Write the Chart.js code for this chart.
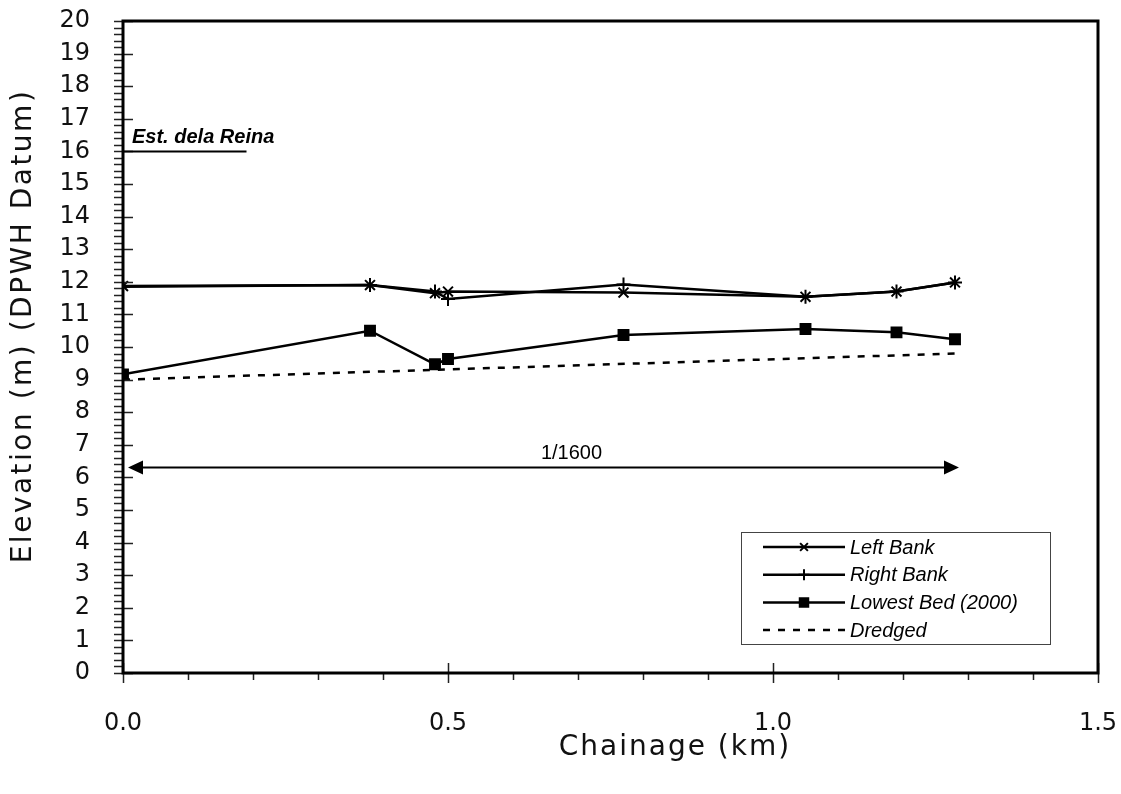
<!DOCTYPE html>
<html>
<head>
<meta charset="utf-8">
<script src="https://cdn.jsdelivr.net/npm/chart.js@4.4.1/dist/chart.umd.min.js"></script>
<style>
  html, body { margin: 0; padding: 0; background: #fff; }
  #wrap { width: 1121px; height: 794px; }
</style>
</head>
<body>
<div id="wrap"><canvas id="chart" width="1121" height="794"></canvas></div>
<script>
/* === DATA === */
const chainage = [0, 0.38, 0.48, 0.5, 0.77, 1.05, 1.19, 1.28];
const leftBank = [11.87, 11.9, 11.65, 11.7, 11.67, 11.54, 11.7, 11.98];
const rightBank = [11.85, 11.9, 11.7, 11.47, 11.92, 11.54, 11.7, 11.98];
const lowestBed = [9.16, 10.5, 9.47, 9.63, 10.37, 10.55, 10.45, 10.24];
const dredgedKm = [0, 1.28];
const dredged = [9.0, 9.8];

const yTicks = [0, 20, 1];      // min, max, step
const xTicks = [0, 1.5, 0.5];

// annotations
const reinaLabel = "Est. dela Reina";
const reinaLevel = 16;
const reinaEnd = 0.19;
const slopeLabel = "1/1600";
const slopeLevel = 6.3;
const slopeFrom = 0;
const slopeTo = 1.28;
const slopeTextAt = 0.69;

const pts = (xs, ys) => xs.map((x, i) => ({ x, y: ys[i] }));

/* === PLUGIN: frame, ticks, titles, notes, legend === */
const decor = {
  id: "decor",
  afterDraw(chart) {
    const { ctx, chartArea: a, scales } = chart;
    const xs = scales.x, ys = scales.y;
    ctx.save();

    // minor / major ticks
    ctx.strokeStyle = "#222";
    ctx.lineWidth = 1.5;
    ctx.beginPath();
    for (let i = 0; i <= 100; i++) {
      const py = Math.round(ys.getPixelForValue(i * 0.2)) + 0.5;
      const major = i % 5 === 0;
      ctx.moveTo(a.left - 9, py);
      ctx.lineTo(major ? a.left + 10 : a.left, py);
    }
    for (let i = 0; i <= 15; i++) {
      const px = Math.round(xs.getPixelForValue(i * 0.1)) + 0.5;
      const major = i % 5 === 0;
      ctx.moveTo(px, major ? a.bottom - 10 : a.bottom);
      ctx.lineTo(px, a.bottom + (major ? 10 : 7));
    }
    ctx.stroke();

    // frame
    ctx.strokeStyle = "#000";
    ctx.lineWidth = 3;
    ctx.strokeRect(a.left, a.top, a.right - a.left, a.bottom - a.top);

    // axis titles
    ctx.fillStyle = "#111";
    ctx.font = "28px 'DejaVu Sans'";
    ctx.letterSpacing = "2px";
    ctx.textAlign = "center";
    ctx.textBaseline = "middle";
    ctx.fillText("Chainage (km)", 675, 748);
    ctx.save();
    ctx.translate(24, 326);
    ctx.rotate(-Math.PI / 2);
    ctx.letterSpacing = "2.5px";
    ctx.fillText("Elevation (m) (DPWH Datum)", 0, 0);
    ctx.restore();
    ctx.letterSpacing = "0px";

    // Est. dela Reina
    const ry = ys.getPixelForValue(reinaLevel);
    ctx.strokeStyle = "#000";
    ctx.lineWidth = 2;
    ctx.beginPath();
    ctx.moveTo(xs.getPixelForValue(0), ry);
    ctx.lineTo(xs.getPixelForValue(reinaEnd), ry);
    ctx.stroke();
    ctx.fillStyle = "#000";
    ctx.font = "italic bold 20px 'Liberation Sans'";
    ctx.textAlign = "left";
    ctx.textBaseline = "alphabetic";
    ctx.fillText(reinaLabel, a.left + 9, ry - 8);

    // slope arrow
    const sy = ys.getPixelForValue(slopeLevel);
    const sx0 = xs.getPixelForValue(slopeFrom) + 5;
    const sx1 = xs.getPixelForValue(slopeTo) + 4;
    ctx.lineWidth = 2;
    ctx.beginPath();
    ctx.moveTo(sx0 + 10, sy);
    ctx.lineTo(sx1 - 10, sy);
    ctx.stroke();
    ctx.beginPath();
    ctx.moveTo(sx0, sy);
    ctx.lineTo(sx0 + 15, sy - 7);
    ctx.lineTo(sx0 + 15, sy + 7);
    ctx.closePath();
    ctx.moveTo(sx1, sy);
    ctx.lineTo(sx1 - 15, sy - 7);
    ctx.lineTo(sx1 - 15, sy + 7);
    ctx.closePath();
    ctx.fill();
    ctx.font = "20px 'Liberation Sans'";
    ctx.textAlign = "center";
    ctx.fillText(slopeLabel, xs.getPixelForValue(slopeTextAt), sy - 9);

    // legend
    const lx = 741, ly = 532, lw = 309, lh = 112;
    ctx.fillStyle = "#fff";
    ctx.fillRect(lx, ly, lw, lh);
    ctx.strokeStyle = "#444";
    ctx.lineWidth = 1;
    ctx.strokeRect(lx + 0.5, ly + 0.5, lw, lh);
    ctx.font = "italic 20px 'Liberation Sans'";
    ctx.textAlign = "left";
    ctx.textBaseline = "middle";
    chart.data.datasets.forEach((ds, i) => {
      const cy = ly + 15 + i * 27.7;
      ctx.strokeStyle = "#000";
      ctx.lineWidth = 2.5;
      ctx.setLineDash(ds.borderDash || []);
      ctx.beginPath();
      ctx.moveTo(763, cy);
      ctx.lineTo(845, cy);
      ctx.stroke();
      ctx.setLineDash([]);
      if (ds.pointStyle && ds.pointRadius > 0) {
        ctx.lineWidth = 2;
        ctx.fillStyle = "#000";
        ctx.strokeStyle = "#000";
        Chart.helpers.drawPoint(ctx, {
          pointStyle: ds.pointStyle,
          rotation: 0,
          borderWidth: 2,
          radius: ds.pointStyle === "rect" ? 6 : 5.5
        }, 804, cy);
      }
      ctx.fillStyle = "#000";
      ctx.fillText(ds.label, 850, cy + 1);
    });

    ctx.restore();
  }
};

/* === CHART === */
const lineStyle = {
  showLine: true,
  borderColor: "#000",
  backgroundColor: "#000",
  pointBorderColor: "#000",
  pointBackgroundColor: "#000",
  borderWidth: 2.5,
  pointBorderWidth: 2,
  tension: 0
};

const noPad = s => { s.paddingTop = 0; s.paddingBottom = 0; s.paddingLeft = 0; s.paddingRight = 0; };

new Chart(document.getElementById("chart"), {
  type: "scatter",
  data: {
    datasets: [
      { ...lineStyle, label: "Left Bank", data: pts(chainage, leftBank), pointStyle: "crossRot", pointRadius: 7 },
      { ...lineStyle, label: "Right Bank", data: pts(chainage, rightBank), pointStyle: "cross", pointRadius: 7 },
      { ...lineStyle, label: "Lowest Bed (2000)", data: pts(chainage, lowestBed), pointStyle: "rect", pointRadius: 7 },
      { ...lineStyle, label: "Dredged", data: pts(dredgedKm, dredged), pointRadius: 0, borderDash: [7, 8] }
    ]
  },
  options: {
    responsive: false,
    animation: false,
    events: [],
    layout: { padding: { top: 21, right: 23, left: 0, bottom: 0 } },
    plugins: { legend: { display: false }, tooltip: { enabled: false } },
    scales: {
      x: {
        type: "linear",
        min: xTicks[0], max: xTicks[1],
        afterFit: s => { s.height = 121; noPad(s); },
        grid: { display: false, drawTicks: false },
        border: { display: false },
        ticks: {
          stepSize: xTicks[2],
          autoSkip: false,
          maxRotation: 0,
          padding: 36,
          color: "#111",
          font: { family: "DejaVu Sans", size: 24 },
          callback: v => v.toFixed(1)
        }
      },
      y: {
        type: "linear",
        min: yTicks[0], max: yTicks[1],
        afterFit: s => { s.width = 123; noPad(s); },
        grid: { display: false, drawTicks: false },
        border: { display: false },
        ticks: {
          stepSize: yTicks[2],
          autoSkip: false,
          padding: 33,
          color: "#111",
          font: { family: "DejaVu Sans", size: 24 },
          callback: v => String(v)
        }
      }
    }
  },
  plugins: [decor]
});
</script>
</body>
</html>
